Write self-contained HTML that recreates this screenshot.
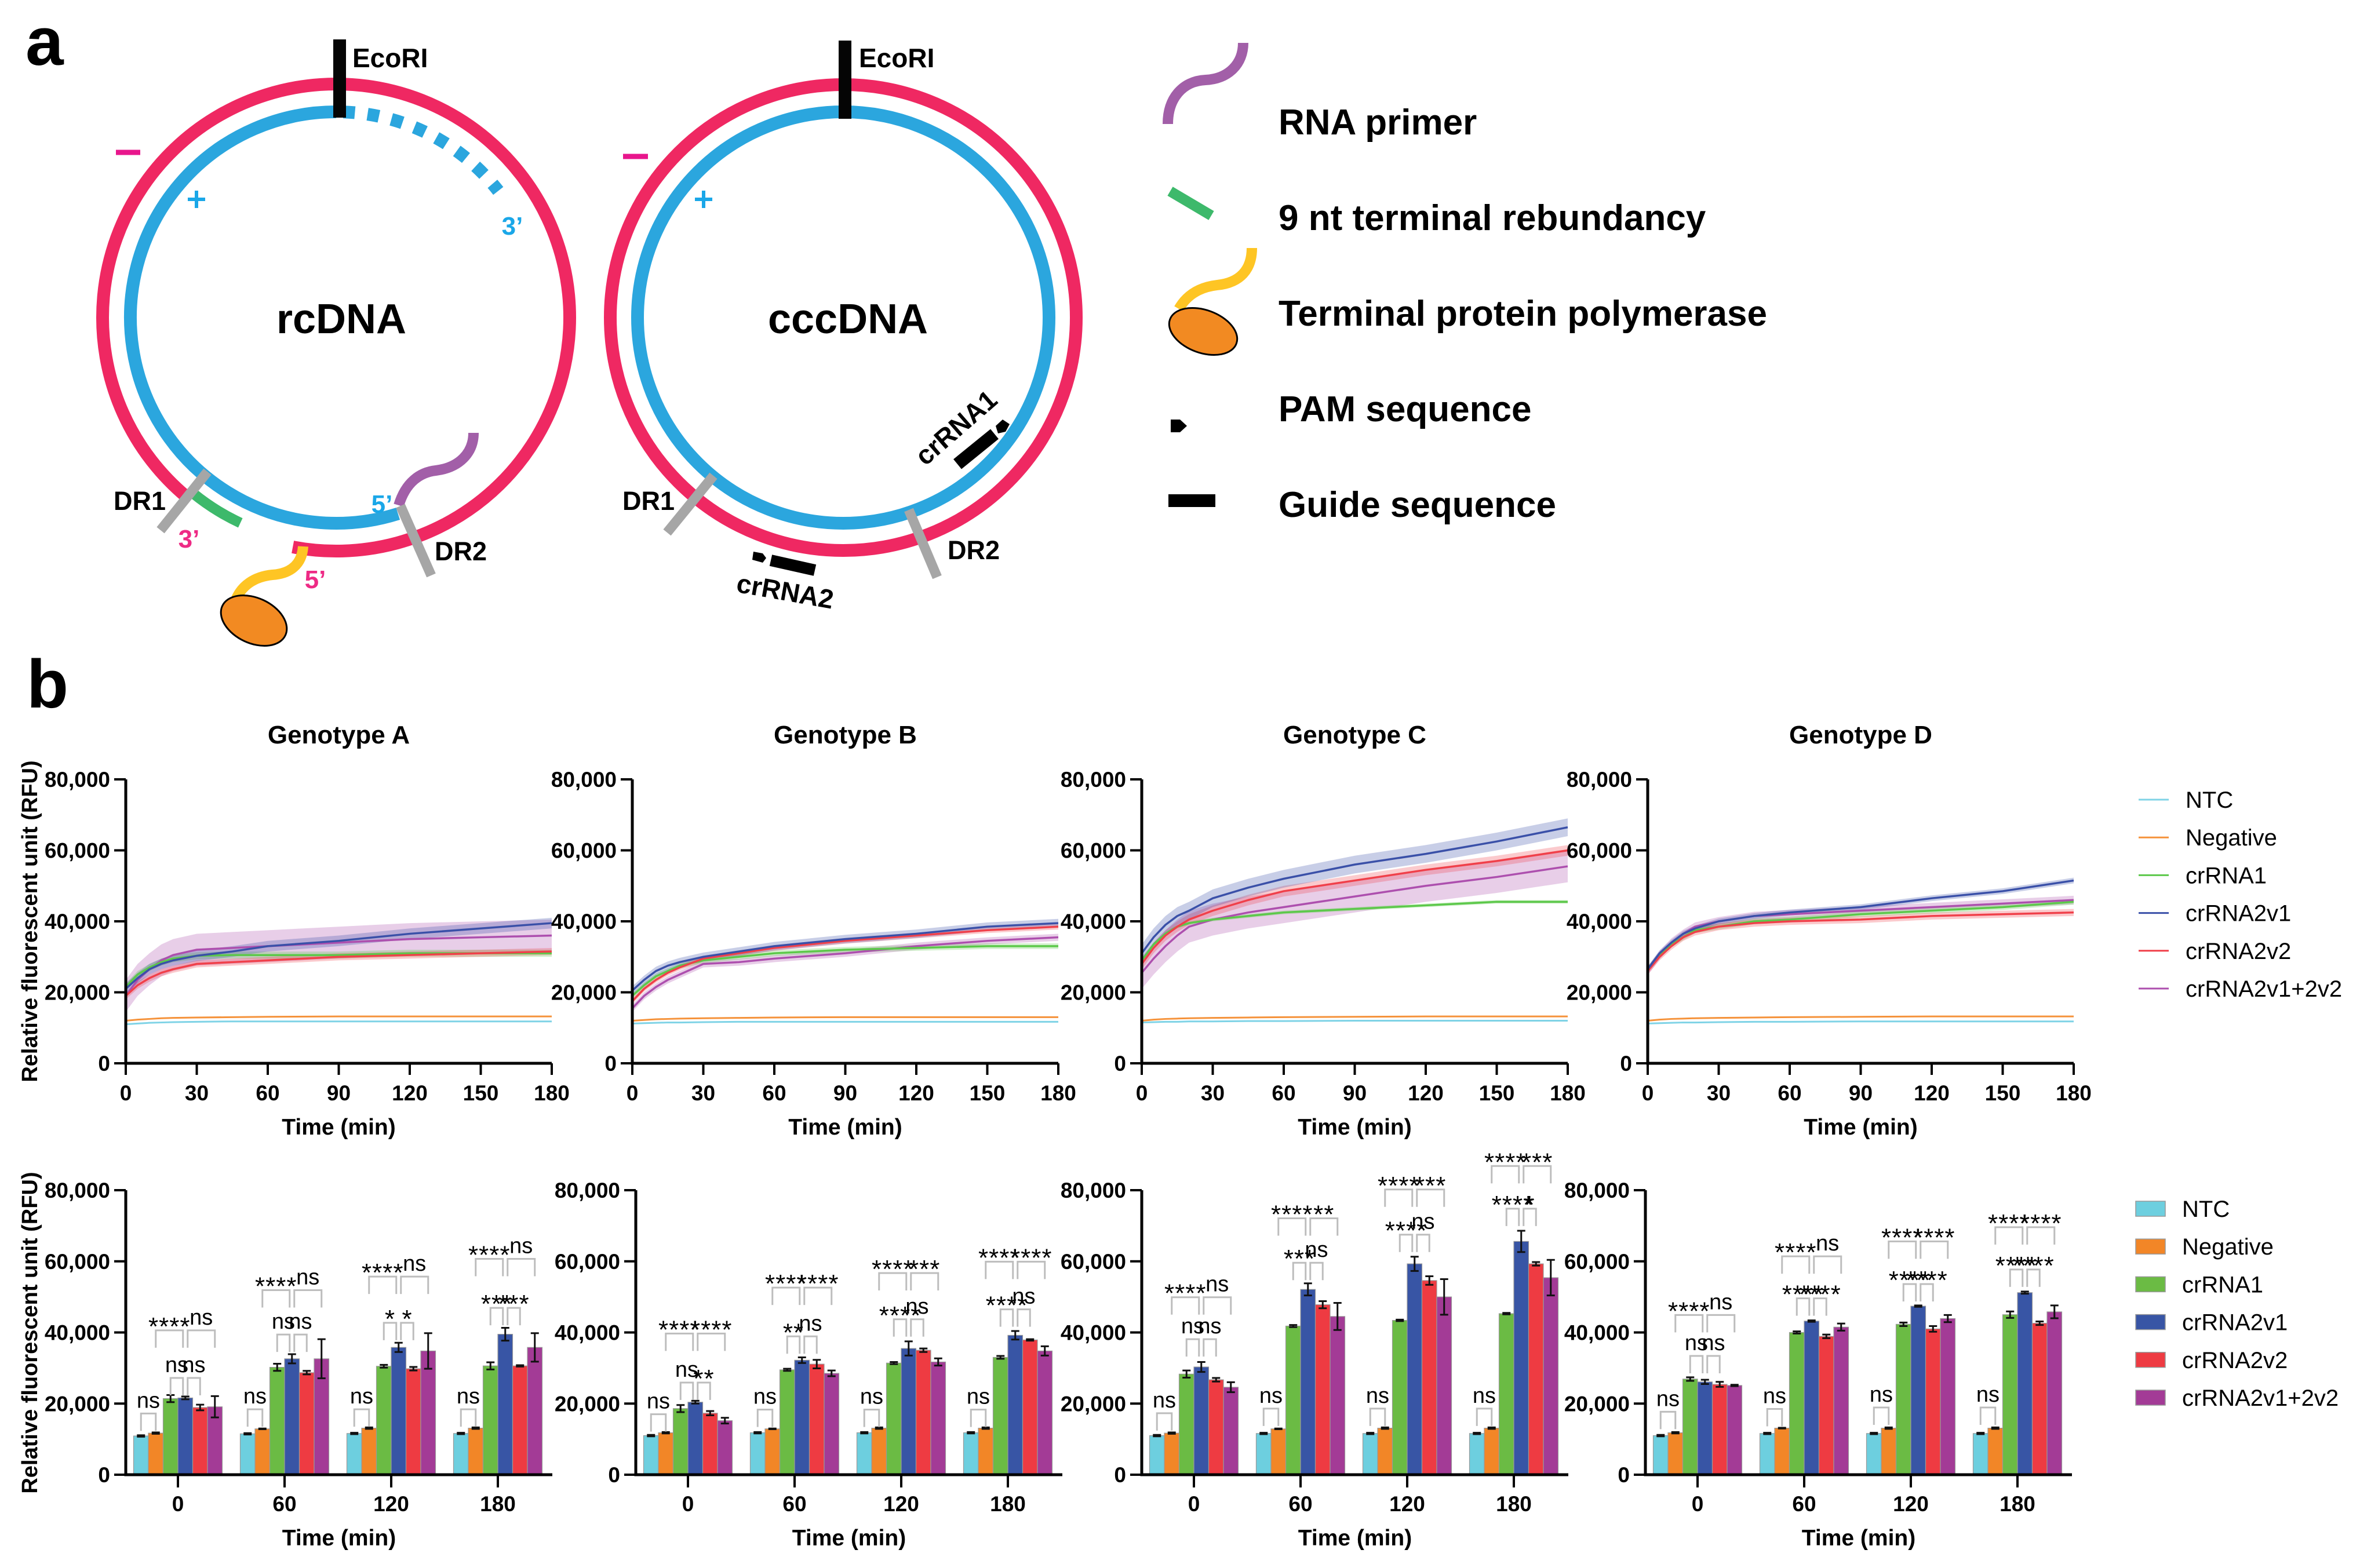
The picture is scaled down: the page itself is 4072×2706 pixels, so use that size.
<!DOCTYPE html>
<html><head><meta charset="utf-8"><title>HBV rcDNA/cccDNA figure</title>
<style>
html,body{margin:0;padding:0;background:#fff;}
svg{display:block;}
text{font-family:"Liberation Sans",sans-serif;}
.b{font-weight:bold;}
</style></head>
<body>
<svg id="fig" xmlns="http://www.w3.org/2000/svg" width="4072" height="2706" viewBox="0 0 4072 2706">
<rect x="0" y="0" width="4072" height="2706" fill="#fff"/>
<text x="44" y="112" font-size="118" class="b">a</text>
<text x="46" y="1221" font-size="118" class="b">b</text>
<g id="diagram"></g>
<g id="charts"></g>
</svg>
<script>
// ---------------- chart data ----------------
const genotypes = ["Genotype A","Genotype B","Genotype C","Genotype D"];
const seriesNames = ["NTC","Negative","crRNA1","crRNA2v1","crRNA2v2","crRNA2v1+2v2"];
const times = [0,5,10,15,20,30,45,60,90,120,150,180];
const xTicks = [0,30,60,90,120,150,180];
const yTicks = [0,20000,40000,60000,80000];
const yTickLabels = ["0","20,000","40,000","60,000","80,000"];
const lineA_ntc = [11.0,11.2,11.4,11.5,11.6,11.7,11.8,11.8,11.8,11.8,11.8,11.8];
const lineA_neg = [12.0,12.3,12.5,12.7,12.8,12.9,13.0,13.1,13.2,13.2,13.2,13.2];
const lineA_cr1 = [21.5,25,27,28.5,29.5,30.3,30.5,30.5,30.5,31,31,31];
const lineA_v1 = [21,24,26.5,28,29,30.3,31.5,33,34.5,36.5,38,39.5];
const lineA_v2 = [19,22,24,25.5,26.5,28,28.5,29,30,30.5,31,31.5];
const lineA_cb = [19,23.5,26.5,29,30.5,32,32.5,33,34,35,35.5,36];
const lineB_ntc = [11.2,11.3,11.4,11.5,11.5,11.6,11.7,11.7,11.7,11.7,11.7,11.7];
const lineB_neg = [12.0,12.2,12.4,12.5,12.6,12.7,12.8,12.9,13.0,13.0,13.0,13.0];
const lineB_cr1 = [19,22,24.5,26,27.5,29,30,31,32,32.5,33,33];
const lineB_v1 = [20.5,23.5,26,27.5,28.5,30,31.5,33,35,36.5,38.5,39.5];
const lineB_v2 = [17.5,21,23.5,25.5,27,29.5,31,32.5,34.5,36,37.5,38.5];
const lineB_cb = [15.5,19,21.5,23.5,25,28,28.5,29.5,31,33,34.5,35.5];
const lineC_ntc = [11.5,11.6,11.7,11.7,11.8,11.8,11.9,11.9,12,12,12,12];
const lineC_neg = [12.0,12.3,12.5,12.6,12.7,12.8,12.9,13.0,13.1,13.2,13.2,13.2];
const lineC_cr1 = [29,33.5,36.5,38.5,39.5,40.5,41.5,42.5,43.5,44.5,45.5,45.5];
const lineC_v1 = [31,35.5,39,41.5,43,46.5,49.5,52,56,59,62.5,66.5];
const lineC_v2 = [28,32.5,36,38.5,40.5,43,46,48.5,51.5,54.5,57,60];
const lineC_cb = [25.5,29.5,33,36,38.5,40.5,42.5,44,47,50,52.5,55.5];
const lineD_ntc = [11.2,11.3,11.4,11.5,11.5,11.6,11.7,11.7,11.8,11.8,11.8,11.8];
const lineD_neg = [12.0,12.3,12.5,12.6,12.7,12.8,12.9,13.0,13.1,13.2,13.2,13.2];
const lineD_cr1 = [26.5,30.5,33.5,35.5,37.5,38.5,40,40.5,42,43,44,45.5];
const lineD_v1 = [26.5,31,34,36.5,38,40,41.5,42.5,44,46.5,48.5,51.5];
const lineD_v2 = [26,30,33,35.5,37,38.5,39.5,40,40.5,41.5,42,42.5];
const lineD_cb = [26,30.5,34,36.5,38.5,40,41.5,42,43,44,45,46];
const bandA = [0.2,0.2,1,1.5,1,4.5];
const bandB = [0.2,0.2,0.8,1.2,0.8,1];
const bandC = [0.2,0.2,0.5,2.5,1.5,4.5];
const bandD = [0.2,0.2,0.8,0.8,1,1.2];
const barGroups = ["0","60","120","180"];
const barA_mean = [[10.9,11.7,21.4,21.6,18.9,19.1],[11.5,12.9,30.2,32.6,28.7,32.6],[11.6,13.1,30.5,35.8,29.8,34.8],[11.6,13.1,30.6,39.5,30.6,35.8]];
const barA_err = [[0.2,0.2,1,0.4,0.8,3],[0.2,0.1,1,1.3,0.5,5.5],[0.2,0.2,0.4,1.3,0.5,5],[0.2,0.2,1,1.8,0.2,4]];
const barB_mean = [[11.0,11.8,18.6,20.4,17.3,15.2],[11.8,12.9,29.5,32.2,31.1,28.5],[11.8,13.1,31.4,35.5,35.0,31.7],[11.8,13.1,33.0,39.2,37.9,34.8]];
const barB_err = [[0.2,0.2,1,0.4,0.6,0.8],[0.2,0.1,0.3,0.8,1.2,0.8],[0.2,0.2,0.3,2,0.5,1],[0.2,0.2,0.4,1.2,0.2,1.3]];
const barC_mean = [[11.0,11.7,28.3,30.3,26.7,24.6],[11.6,12.9,41.8,52.1,47.8,44.5],[11.6,13.1,43.4,59.3,54.6,50.0],[11.6,13.1,45.3,65.6,59.3,55.4]];
const barC_err = [[0.2,0.2,1,1.4,0.5,1.4],[0.2,0.1,0.3,1.7,1,3.8],[0.2,0.2,0.2,2,1.2,5],[0.2,0.2,0.2,3,0.5,5]];
const barD_mean = [[11.0,11.8,26.9,26.1,25.4,25.1],[11.6,13.1,40.0,43.2,38.9,41.5],[11.6,13.1,42.3,47.4,41.0,43.9],[11.6,13.1,45.0,51.2,42.6,45.8]];
const barD_err = [[0.2,0.2,0.5,0.6,0.7,0.2],[0.2,0.1,0.3,0.2,0.5,1],[0.2,0.2,0.5,0.2,0.8,1],[0.2,0.2,0.9,0.3,0.5,1.8]];
const sigA_y = [[17.2,27.2,40.6],[18.4,39.4,51.9],[18.4,42.7,55.7],[18.4,46.9,60.7]];
const sigB_y = [[17.0,25.9,39.7],[18.3,38.9,52.6],[18.3,43.7,56.7],[18.3,46.5,59.9]];
const sigC_y = [[17.3,38.1,49.9],[18.6,59.6,72.1],[18.6,67.5,80.2],[18.6,74.8,86.8]];
const sigD_y = [[17.7,33.4,44.9],[18.5,49.6,61.4],[18.9,53.6,65.6],[18.9,57.7,69.6]];
const sigA_lab = [["ns","ns","****","ns"],["ns","ns","****","ns"],["*","*","****","ns"],["***","***","****","ns"]];
const sigB_lab = [["ns","**","****","****"],["**","ns","****","****"],["****","ns","****","***"],["****","ns","****","****"]];
const sigC_lab = [["ns","ns","****","ns"],["***","ns","****","**"],["****","ns","****","***"],["****","*","****","***"]];
const sigD_lab = [["ns","ns","****","ns"],["****","****","****","ns"],["****","****","****","****"],["****","****","****","****"]];

// ---------------- drawing ----------------
const NS = "http://www.w3.org/2000/svg";
function mk(tag, attrs, parent){ const e=document.createElementNS(NS,tag); for(const k in attrs) e.setAttribute(k,attrs[k]); parent.appendChild(e); return e; }
const lineCols = ["#7fd3e6","#f5923a","#5cc84a","#3a50a8","#f0404a","#ad4fae"];
const barCols = ["#6dcfdf","#f28627","#6bbb44","#3855a5","#ee3b42","#a33b96"];
const charts = document.getElementById('charts');
const lineX0 = [217,1091,1970,2843], barX0 = [217,1097,1970,2839];
const PW = 735, LY0 = 1835, LY80 = 1345, BY0 = 2545, BY80 = 2054;
const lineData = [[lineA_ntc,lineA_neg,lineA_cr1,lineA_v1,lineA_v2,lineA_cb],[lineB_ntc,lineB_neg,lineB_cr1,lineB_v1,lineB_v2,lineB_cb],[lineC_ntc,lineC_neg,lineC_cr1,lineC_v1,lineC_v2,lineC_cb],[lineD_ntc,lineD_neg,lineD_cr1,lineD_v1,lineD_v2,lineD_cb]];
const bands = [bandA,bandB,bandC,bandD];
const barMeans = [barA_mean,barB_mean,barC_mean,barD_mean], barErrs = [barA_err,barB_err,barC_err,barD_err];
const sigYs = [sigA_y,sigB_y,sigC_y,sigD_y], sigLabs = [sigA_lab,sigB_lab,sigC_lab,sigD_lab];
const drawOrder = [0,1,5,2,4,3];

for(let g=0; g<4; g++){
  const X0=lineX0[g];
  const xs = t => X0 + t/180*PW;
  const ys = v => LY0 - v/80*(LY0-LY80);
  const gp = mk('g',{},charts);
  
  
  const tt = mk('text',{x:X0+PW/2,y:1283,'font-size':44,'text-anchor':'middle','class':'b'},gp); tt.textContent=genotypes[g];
   
  for(const s of drawOrder){
    const d=lineData[g][s], bw=bands[g][s];
    let pts=[]; for(let i=0;i<times.length;i++) pts.push(xs(times[i])+','+ys(d[i]+bw));
    for(let i=times.length-1;i>=0;i--) pts.push(xs(times[i])+','+ys(d[i]-bw));
    const p=mk('polygon',{points:pts.join(' '),fill:lineCols[s],'fill-opacity':0.28},gp);
     
  }
  for(const s of drawOrder){
    const d=lineData[g][s];
    const pts=times.map((t,i)=>xs(t)+','+ys(d[i])).join(' ');
    const p=mk('polyline',{points:pts,fill:'none',stroke:lineCols[s],'stroke-width':s<2?3:3.5,'stroke-linejoin':'round'},gp);
     
  }
  const ax=mk('path',{d:`M${X0},${LY80} V${LY0} H${X0+PW}`,fill:'none',stroke:'#000','stroke-width':5},gp);
   
  yTicks.forEach((v,i)=>{
    const y=ys(v/1000);
    mk('line',{x1:X0-20,x2:X0,y1:y,y2:y,stroke:'#000','stroke-width':4},gp);
    const t=mk('text',{x:X0-27,y:y+13,'font-size':37,'text-anchor':'end','class':'b'},gp); t.textContent=yTickLabels[i];
     
  });
  xTicks.forEach(v=>{
    const x=xs(v);
    mk('line',{x1:x,x2:x,y1:LY0,y2:LY0+20,stroke:'#000','stroke-width':4},gp);
    const t=mk('text',{x:x,y:1899,'font-size':37,'text-anchor':'middle','class':'b'},gp); t.textContent=String(v);
     
  });
  const xt=mk('text',{x:X0+PW/2,y:1958,'font-size':39,'text-anchor':'middle','class':'b'},gp); xt.textContent='Time (min)';
   

  const B0=barX0[g];
  const yb = v => BY0 - v/80*(BY0-BY80);
  const bg = mk('g',{},charts);
  
  
  const bw=25.5;
  barGroups.forEach((lab,i)=>{
    const gc=B0+90+184*i;
    const cx=j=>gc-3*bw+j*bw+bw/2;
    for(let j=0;j<6;j++){
      const m=barMeans[g][i][j], e=barErrs[g][i][j];
      const r=mk('rect',{x:gc-3*bw+j*bw,y:yb(m),width:bw,height:BY0-yb(m),fill:barCols[j],stroke:'#999','stroke-width':1.2},bg);
       
      const eb=mk('path',{d:`M${cx(j)-7},${yb(m+e)} H${cx(j)+7} M${cx(j)},${yb(m+e)} V${yb(m-e)} M${cx(j)-7},${yb(m-e)} H${cx(j)+7}`,stroke:'#111','stroke-width':3,fill:'none'},bg);
       
    }
    const sy=sigYs[g][i], sl=sigLabs[g][i];
    const br=(x1,x2,v,label)=>{
      const y=yb(v);
      const p=mk('path',{d:`M${x1},${y+30} V${y} H${x2} V${y+30}`,fill:'none',stroke:'#bdbdbd','stroke-width':3},bg);
       
      const st = label.indexOf('*')>=0;
      const t=mk('text',{x:(x1+x2)/2,y:st?y+8:y-10,'font-size':st?44:38,'text-anchor':'middle','letter-spacing':st?1:0},bg); t.textContent=label;
       
    };
    br(cx(0),cx(1),sy[0],'ns');
    br(cx(2),cx(3)-4,sy[1],sl[0]);
    br(cx(3)+4,cx(4),sy[1],sl[1]);
    br(cx(1),cx(3)-4,sy[2],sl[2]);
    br(cx(3)+4,cx(5),sy[2],sl[3]);
    mk('line',{x1:gc,x2:gc,y1:BY0,y2:BY0+22,stroke:'#000','stroke-width':4},bg);
    const t=mk('text',{x:gc,y:2608,'font-size':37,'text-anchor':'middle','class':'b'},bg); t.textContent=lab;
     
  });
  const bax=mk('path',{d:`M${B0},${BY80} V${BY0} H${B0+736}`,fill:'none',stroke:'#000','stroke-width':5},bg);
   
  yTicks.forEach((v,i)=>{
    const y=yb(v/1000);
    mk('line',{x1:B0-20,x2:B0,y1:y,y2:y,stroke:'#000','stroke-width':4},bg);
    const t=mk('text',{x:B0-27,y:y+13,'font-size':37,'text-anchor':'end','class':'b'},bg); t.textContent=yTickLabels[i];
     
  });
  const bxt=mk('text',{x:B0+368,y:2667,'font-size':39,'text-anchor':'middle','class':'b'},bg); bxt.textContent='Time (min)';
   
}
[[1590],[2300]].forEach(([cy],k)=>{
  const t=mk('text',{x:0,y:0,'font-size':38,'text-anchor':'middle','class':'b',transform:`translate(64,${cy}) rotate(-90)`},charts);
  t.textContent='Relative fluorescent unit (RFU)';
   
});
seriesNames.forEach((n,i)=>{
  const y=1380+65.2*i;
  const l=mk('line',{x1:3690,x2:3742,y1:y,y2:y,stroke:lineCols[i],'stroke-width':3},charts);
   
  const t=mk('text',{x:3771,y:y+14,'font-size':40},charts); t.textContent=n;
   
  const yb=2086+65.2*i;
  const r=mk('rect',{x:3685,y:yb-13,width:51,height:26,fill:barCols[i],stroke:'#999','stroke-width':1.5},charts);
   
  const t2=mk('text',{x:3765,y:yb+14,'font-size':40},charts); t2.textContent=n;
   
});

// ---------------- diagram ----------------
const dg=document.getElementById('diagram');
function pt(cx,cy,r,a){const t=a*Math.PI/180;return [cx+r*Math.sin(t), cy-r*Math.cos(t)];}
function arc(cx,cy,r,a1,a2){const p1=pt(cx,cy,r,a1),p2=pt(cx,cy,r,a2);const large=(a2-a1)>180?1:0;return `M${p1[0]},${p1[1]} A${r},${r} 0 ${large} 1 ${p2[0]},${p2[1]}`;}
const RED="#ef2862", BLUE="#2ba6de", GRAY="#a6a6a6";
function P(d,stroke,w,name,extra){const e=mk('path',Object.assign({d:d,fill:'none',stroke:stroke,'stroke-width':w},extra||{}),dg);return e;}
function T(x,y,s,txt,name,extra){const e=mk('text',Object.assign({x:x,y:y,'font-size':s},extra||{}),dg);e.textContent=txt;return e;}
const c1x=580,c1y=548;
P(arc(c1x,c1y,403,220,550.7),RED,22,'rcdna-minus-strand');
P(arc(c1x,c1y,355,162.5,360),BLUE,22,'rcdna-plus-strand');
P(arc(c1x,c1y,355,2,52),BLUE,22,'rcdna-plus-strand-dashed',{'stroke-dasharray':'20 22'});
P(arc(c1x,c1y,391,205,219),"#3db96b",18,'terminal-redundancy');
P('M688,872 C700,832 725,815 752,812 C792,807 817,782 817,747',"#a25fa8",18,'rna-primer');
P('M523,943 C521,975 500,990 470,992 C440,995 415,1010 405,1040',"#fec524",18,'tp-linker');
{const e=mk('ellipse',{cx:438,cy:1071,rx:60,ry:39,fill:'#f28a22',stroke:'#000','stroke-width':3,transform:'rotate(25 438 1071)'},dg);}
P('M277,915 L358,814',GRAY,17,'dr1-marker');
P('M691,873 L744,993',GRAY,17,'dr2-marker');
P('M586,68 V203','#050505',22,'ecori-site');
T(608,116,46,'EcoRI','ecori-label',{'class':'b'});
T(589,575,72,'rcDNA','rcdna-label',{'class':'b','text-anchor':'middle'});
P('M200,263 H242','#e8168c',9,'minus-sign');
P('M324,344 H354 M339,329 V359','#1aa7e8',6,'plus-sign');
T(884,405,44,"3\u2019",'plus-3-label',{fill:'#1aa7e8','text-anchor':'middle','class':'b'});
T(196,880,45,'DR1','dr1-label',{'class':'b'});
T(326,945,44,"3\u2019",'minus-3-label',{fill:'#ee2a85','text-anchor':'middle','class':'b'});
T(659,885,44,"5\u2019",'plus-5-label',{fill:'#1aa7e8','text-anchor':'middle','class':'b'});
T(544,1015,44,"5\u2019",'minus-5-label',{fill:'#ee2a85','text-anchor':'middle','class':'b'});
T(750,967,45,'DR2','dr2-label',{'class':'b'});
const c2x=1455,c2y=548;
{const e=mk('circle',{cx:c2x,cy:c2y,r:402,fill:'none',stroke:RED,'stroke-width':22},dg);}
{const e=mk('circle',{cx:c2x,cy:c2y,r:355,fill:'none',stroke:BLUE,'stroke-width':22},dg);}
P('M1151,919 L1231,821',GRAY,17,'cccdna-dr1-marker');
P('M1568,880 L1617,996',GRAY,17,'cccdna-dr2-marker');
P('M1458,70 V205','#050505',22,'cccdna-ecori-site');
T(1482,116,46,'EcoRI','cccdna-ecori-label',{'class':'b'});
T(1463,575,72,'cccDNA','cccdna-label',{'class':'b','text-anchor':'middle'});
P('M1075,270 H1118','#e8168c',9,'cccdna-minus-sign');
P('M1199,344 H1229 M1214,329 V359','#1aa7e8',6,'cccdna-plus-sign');
T(1074,880,45,'DR1','cccdna-dr1-label',{'class':'b'});
T(1635,965,45,'DR2','cccdna-dr2-label',{'class':'b'});
P('M1652,801 L1716,749','#000',22,'crrna1-guide');
{const e=mk('polygon',{points:'1718,735 1730,724 1742,732 1735,745 1722,748',fill:'#000'},dg);}
T(0,0,46,'crRNA1','crrna1-label',{'class':'b','text-anchor':'middle',transform:'translate(1660,750) rotate(-41)'});
P('M1330,967 L1406,984','#000',20,'crrna2-guide');
{const e=mk('polygon',{points:'1300,952 1316,955 1322,963 1316,971 1298,966',fill:'#000'},dg);}
T(0,0,46,'crRNA2','crrna2-label',{'class':'b','text-anchor':'middle',transform:'translate(1352,1036) rotate(10)'});
P('M2015,214 C2015,170 2040,140 2080,138 C2120,136 2145,110 2145,74',"#a25fa8",18,'legend-rna-primer-icon');
P('M2019,330 L2090,372',"#3db96b",18,'legend-redundancy-icon');
P('M2034,533 C2050,505 2075,495 2100,492 C2140,488 2160,465 2160,428',"#fec524",18,'legend-tp-linker-icon');
{const e=mk('ellipse',{cx:2076,cy:572,rx:61,ry:37,fill:'#f28a22',stroke:'#000','stroke-width':3,transform:'rotate(20 2076 572)'},dg);}
{const e=mk('polygon',{points:'2020,724 2036,724 2048,735 2036,746 2020,746',fill:'#000'},dg);}
{const e=mk('rect',{x:2016,y:853,width:81,height:22,fill:'#000'},dg);}
const legTxt=["RNA primer","9 nt terminal rebundancy","Terminal protein polymerase","PAM sequence","Guide sequence"];
legTxt.forEach((s,i)=>{T(2206,210+165*i+22,62,s,'diagram-legend-entry',{'class':'b'});});
</script>
</body></html>
